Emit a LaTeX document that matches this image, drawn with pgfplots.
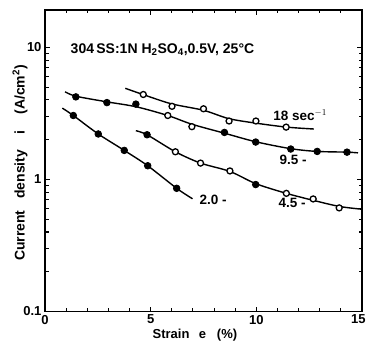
\documentclass[border=0pt]{standalone}
\usepackage{pgfplots}
\pgfplotsset{compat=1.18}
\usepackage{fontspec}
\setmainfont{Liberation Sans}

% Current density vs. strain for 304 SS, one curve per strain rate
\pgfplotstableread{
x y
3.80 4.90
4.65 4.39
5.98 3.74
7.50 3.34
8.69 2.89
9.97 2.67
11.44 2.49
12.72 2.41
}\curveA
\pgfplotstableread{
x y
4.65 4.40
6.01 3.58
7.50 3.43
8.71 2.77
9.98 2.77
11.41 2.49
}\openA

\pgfplotstableread{
x y
0.95 4.61
1.46 4.27
2.93 3.87
4.32 3.55
5.81 3.05
6.95 2.62
8.49 2.24
9.97 1.93
11.63 1.71
12.88 1.63
14.29 1.61
14.81 1.59
}\curveB
\pgfplotstableread{
x y
1.46 4.22
2.93 3.82
4.30 3.72
8.49 2.27
9.97 1.92
11.63 1.70
12.88 1.63
14.29 1.61
}\fillB
\pgfplotstableread{
x y
5.81 3.05
6.95 2.51
}\openB

\pgfplotstableread{
x y
4.30 2.34
4.83 2.18
6.17 1.62
7.36 1.33
8.75 1.15
9.97 0.93
11.42 0.785
12.69 0.695
13.92 0.625
14.95 0.596
}\curveC
\pgfplotstableread{
x y
4.83 2.18
9.97 0.915
}\fillC
\pgfplotstableread{
x y
6.17 1.62
7.36 1.33
8.75 1.16
11.42 0.785
12.69 0.712
13.92 0.609
}\openC

\pgfplotstableread{
x y
0.82 3.47
1.34 3.05
2.52 2.21
3.75 1.66
4.86 1.27
6.23 0.857
6.98 0.714
}\curveD
\pgfplotstableread{
x y
1.34 3.05
2.52 2.21
3.75 1.66
4.86 1.27
6.23 0.857
}\fillD

\begin{document}
\begin{tikzpicture}[x=1pt,y=1pt]
\useasboundingbox (0,0) rectangle (366,343);
\begin{axis}[
  at={(45pt,31.5pt)}, anchor=south west,
  scale only axis, width=317pt, height=301.5pt,
  xmin=0, xmax=15, ymode=log, ymin=0.1, ymax=19.2,
  xtick={0,5,10,15}, xticklabels={0,5,10,{\makebox[7pt][r]{15}}},
  minor xtick={1,2,3,4,6,7,8,9,11,12,13,14},
  ytick={0.1,1,10}, yticklabels={0.1,1,10},
  tick pos=both, tick align=inside,
  major tick length=5pt, minor tick length=3.5pt,
  axis line style={line width=1.6pt},
  every tick/.style={line width=1.1pt, black},
  tick label style={font=\bfseries\fontsize{13}{15}\selectfont},
  /pgf/number format/assume math mode=true,
  xlabel={Strain\, \ e \ \ (\%)},
  ylabel={Current \ \ density \ \ \ i \ \ \ (A/cm\textsuperscript{2})},
  label style={font=\bfseries\fontsize{14}{16}\selectfont},
  xlabel style={at={(axis description cs:0.473,-0.079)}, anchor=center,
                font=\bfseries\fontsize{13}{15}\selectfont},
  ylabel style={at={(axis description cs:-0.079,0.4925)}, anchor=center},
  clip=false,
]
\tikzset{
  fillmark/.style={only marks, mark=*, mark size=3.3pt, mark options={fill=black, draw=black, line width=0.8pt}},
  openmark/.style={only marks, mark=*, mark size=3.0pt, mark options={fill=white, draw=black, line width=1.3pt}},
  curve/.style={no marks, smooth, black, line width=1.4pt},
  lbl/.style={font=\bfseries\fontsize{13.5}{15}\selectfont},
}
\addplot[curve] table {\curveA};
\addplot[curve] table {\curveB};
\addplot[curve] table {\curveC};
\addplot[curve] table {\curveD};

\addplot[openmark] table {\openA};
\addplot[fillmark] table {\fillB};
\addplot[openmark] table {\openB};
\addplot[fillmark] table {\fillC};
\addplot[openmark] table {\openC};
\addplot[fillmark] table {\fillD};

\node[anchor=west, font=\bfseries\fontsize{14}{16}\selectfont] at (axis cs:1.05,9.57)
  {304\,SS:1N H\textsubscript{2}SO\textsubscript{4},0.5V, 25°C};
\node[lbl] at (axis cs:12.07,3.08) {18 sec$^{-1}$};
\node[lbl] at (axis cs:11.74,1.41) {9.5 -};
\node[lbl] at (axis cs:11.69,0.664) {4.5 -};
\node[lbl] at (axis cs:7.95,0.70) {2.0 -};
\end{axis}
\end{tikzpicture}
\end{document}
